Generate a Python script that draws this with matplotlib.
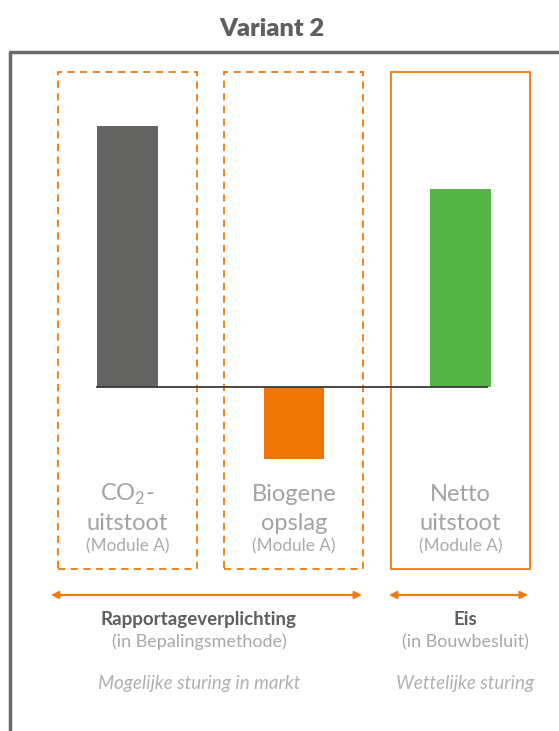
import matplotlib
matplotlib.use('Agg')
import matplotlib.pyplot as plt
from matplotlib.lines import Line2D
from matplotlib.patches import Rectangle

plt.rcParams['font.family'] = ['Lato', 'DejaVu Sans']
plt.rcParams['mathtext.fontset'] = 'custom'
plt.rcParams['mathtext.rm'] = 'Lato'

# data
categorieen = ['CO$_2$-\nuitstoot', 'Biogene\nopslag', 'Netto\nuitstoot']
waarden = [100, -27.5, 76]
kleuren = ['#636361', '#EF7505', '#54B544']
module = ['(Module A)', '(Module A)', '(Module A)']

ORANJE = '#F07A10'
GRIJS_DONKER = '#5f5f5f'
GRIJS_LICHT = '#a8a8a8'

fig = plt.figure(figsize=(5.59, 7.31), dpi=100)
ax = fig.add_axes([0, 0, 1, 1])

# schaal: 1 categorie = 166.5 px, 100 eenheden = 261 px
sx, sy = 166.5, 2.61
x0_px, y0_px = 127.5, 387
ax.set_xlim(-x0_px / sx, (559 - x0_px) / sx)
ax.set_ylim(-(731 - y0_px) / sy, y0_px / sy)
ax.axis('off')

def px(x):
    return (x - x0_px) / sx

def py(y):
    return (y0_px - y) / sy

pos = list(range(len(waarden)))
ax.bar(pos, waarden, width=0.366, color=kleuren, zorder=3)

# nullijn
ax.plot([-0.183, 2 + 0.16], [0, 0], color='#3a3a3a', lw=1.3, zorder=4)

# kaders
for i in pos:
    r = Rectangle((i - 0.418, py(569)), 0.835, py(72) - py(569),
                  fill=False, edgecolor=ORANJE, lw=1.3, zorder=2)
    if i < 2:
        r.set_linestyle((0, (4, 3)))
    ax.add_patch(r)

# labels
for i, lab in enumerate(categorieen):
    regels = lab.split('\n')
    ax.text(i, py(501), regels[0], ha='center', va='baseline',
            fontsize=17, color='#a3a3a3')
    ax.text(i, py(530), regels[1], ha='center', va='baseline',
            fontsize=17, color='#a3a3a3')
    ax.text(i, py(551), module[i], ha='center', va='baseline',
            fontsize=12.3, color='#ababab')

# pijlen
for a, b in [(51, 362), (389, 528)]:
    ax.annotate('', xy=(px(a), py(595)), xytext=(px(b), py(595)),
                arrowprops=dict(arrowstyle='<|-|>', color=ORANJE, lw=1.5,
                                mutation_scale=11, shrinkA=0, shrinkB=0))

# teksten onder
for xc, kop, sub, sturing in [(199, 'Rapportageverplichting', '(in Bepalingsmethode)',
                               'Mogelijke sturing in markt'),
                              (465, 'Eis', '(in Bouwbesluit)', 'Wettelijke sturing')]:
    ax.text(px(xc), py(625), kop, ha='center', va='baseline', fontsize=13.5,
            fontweight='bold', color=GRIJS_DONKER)
    ax.text(px(xc), py(647), sub, ha='center', va='baseline', fontsize=13,
            color=GRIJS_LICHT)
    ax.text(px(xc), py(689), sturing, ha='center', va='baseline', fontsize=13.5,
            style='italic', color='#b0b0b0')

# titel
ax.text(px(272), py(36), 'Variant 2', ha='center', va='baseline', fontsize=18.3,
        fontweight='heavy', color=GRIJS_DONKER)

# omlijsting
fig.add_artist(Line2D([10 / 559, 10 / 559, 1], [0, 1 - 52 / 731, 1 - 52 / 731],
                      color='#6b6b6b', lw=2.5, transform=fig.transFigure))

fig.savefig('out.png', dpi=100, facecolor='white')
